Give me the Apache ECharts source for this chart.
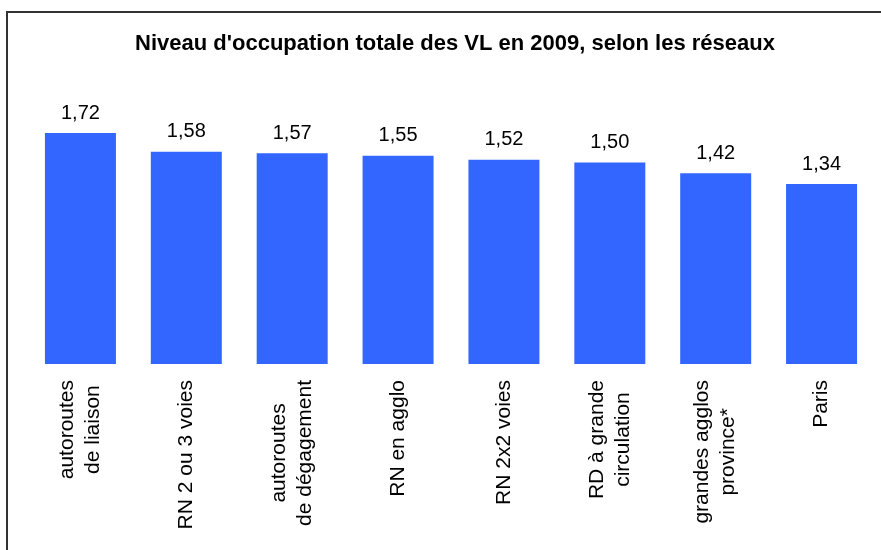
<!DOCTYPE html>
<html>
<head>
<meta charset="utf-8">
<script src="https://cdn.jsdelivr.net/npm/echarts@6/dist/echarts.min.js"></script>
<style>
  html, body { margin: 0; padding: 0; background: #fff; }
  #chart { width: 881px; height: 550px; }
</style>
</head>
<body>
<div id="chart"></div>
<script>
const categories = [
  'autoroutes\nde liaison',
  'RN 2 ou 3 voies',
  'autoroutes\nde dégagement',
  'RN en agglo',
  'RN 2x2 voies',
  'RD à grande\ncirculation',
  'grandes agglos\nprovince*',
  'Paris'
];
const occupation = [1.72, 1.58, 1.57, 1.55, 1.52, 1.50, 1.42, 1.34];

const FONT = 'Liberation Sans, Arial, sans-serif';
const chart = echarts.init(document.getElementById('chart'));

chart.setOption({
  animation: false,
  title: {
    text: "Niveau d'occupation totale des VL en 2009, selon les réseaux",
    left: 450,
    top: 28,
    textAlign: 'center',
    textStyle: { fontFamily: FONT, fontSize: 22, fontWeight: 'bold', color: '#000' }
  },
  graphic: [{
    type: 'rect',
    shape: { x: 7, y: 12, width: 1000, height: 1000 },
    style: { fill: 'none', stroke: '#333', lineWidth: 2 },
    silent: true
  }],
  grid: { left: 27.5, right: 6.5, top: 95.4, bottom: 186, containLabel: false },
  xAxis: {
    type: 'category',
    data: categories,
    axisLine: { show: false },
    axisTick: { show: false },
    axisLabel: {
      rotate: 90,
      margin: 16,
      interval: 0,
      color: '#000',
      fontFamily: FONT,
      fontSize: 21,
      formatter: v => v.split('\n').map(s => '{c|' + s + '}').join('\n'),
      rich: {
        c: { align: 'center', fontFamily: FONT, fontSize: 21, lineHeight: 26, color: '#000' }
      }
    }
  },
  yAxis: {
    type: 'value',
    min: 0,
    max: 2,
    show: false
  },
  series: [{
    type: 'bar',
    data: occupation,
    barWidth: 71,
    itemStyle: { color: '#3366FF' },
    label: {
      show: true,
      position: 'top',
      distance: 10,
      color: '#000',
      fontFamily: FONT,
      fontSize: 20,
      formatter: p => p.value.toFixed(2).replace('.', ',')
    }
  }]
});
</script>
</body>
</html>
